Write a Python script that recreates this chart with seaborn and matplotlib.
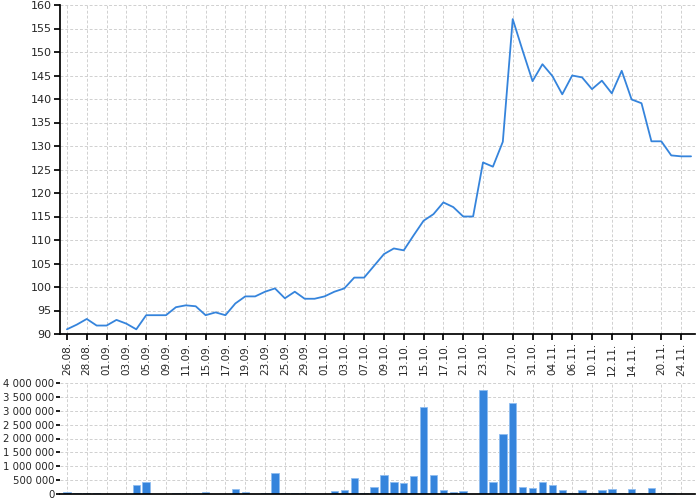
import matplotlib
matplotlib.use("Agg")
import matplotlib.pyplot as plt
import seaborn as sns
import numpy as np
import pandas as pd
from matplotlib.ticker import FuncFormatter, MultipleLocator

price = [91, 92, 93.2, 91.8, 91.8, 93, 92.2, 91, 94, 94, 94, 95.7, 96.1, 95.9, 94, 94.6, 94,
         96.5, 98, 98, 99, 99.7, 97.6, 99, 97.5, 97.5, 98, 99, 99.7, 102, 102, 104.5, 107, 108.2,
         107.8, 111, 114.1, 115.5, 118, 117, 115, 115, 126.5, 125.6, 130.9, 157, 150.3, 143.8,
         147.4, 144.9, 141, 145, 144.6, 142.1, 143.9, 141.2, 146, 139.9, 139.1, 131, 131, 128,
         127.8, 127.8]
volume = [60e3, 20e3, 40e3, 20e3, 0, 0, 0, 330e3, 420e3, 10e3, 0, 40e3, 30e3, 30e3, 70e3, 0, 0,
          170e3, 70e3, 0, 40e3, 760e3, 50e3, 40e3, 50e3, 0, 0, 100e3, 140e3, 560e3, 20e3, 270e3,
          680e3, 420e3, 390e3, 650e3, 3120e3, 690e3, 160e3, 80e3, 110e3, 0, 3750e3, 420e3,
          2170e3, 3280e3, 270e3, 230e3, 430e3, 320e3, 140e3, 30e3, 150e3, 30e3, 150e3, 180e3,
          50e3, 180e3, 20e3, 230e3, 40e3, 40e3, 10e3, 0]
tick_labels = ["26.08.", "28.08.", "01.09.", "03.09.", "05.09.", "09.09.", "11.09.", "15.09.",
               "17.09.", "19.09.", "23.09.", "25.09.", "29.09.", "01.10.", "03.10.", "07.10.",
               "09.10.", "13.10.", "15.10.", "17.10.", "21.10.", "23.10.", "27.10.", "31.10.",
               "04.11.", "06.11.", "10.11.", "12.11.", "14.11.", "20.11.", "24.11."]
tick_idx = list(range(0, 44, 2)) + [45, 47, 49, 51, 53, 55, 57, 60, 62]

df = pd.DataFrame({"i": np.arange(len(price)), "price": price, "volume": volume})

sns.set_theme(style="white")
plt.rcParams['font.family'] = ['DejaVu Sans']
fig = plt.figure(figsize=(7, 5), dpi=100)
ax1 = fig.add_axes([60/700, 1-334/500, 635/700, 329/500])
ax2 = fig.add_axes([60/700, 1-494/500, 635/700, 111/500])

blue = "#3584dc"
sns.lineplot(data=df, x="i", y="price", ax=ax1, color=blue, linewidth=1.3)
sns.barplot(data=df, x="i", y="volume", ax=ax2, color=blue, native_scale=True,
            width=0.75, edgecolor="#8fbdf0", linewidth=0.6, saturation=1)

for ax in (ax1, ax2):
    ax.set_xlim(-0.7, 63.4)
    ax.grid(True, color="#d0d0d0", linestyle=(0, (3, 2)), linewidth=0.7)
    ax.set_xlabel(""); ax.set_ylabel("")
    for s in ["top", "right", "left"]:
        ax.spines[s].set_visible(False)
    ax.spines["bottom"].set_color("black")
    ax.set_axisbelow(True)

ax1.tick_params(axis="y", labelsize=8, length=4, left=True, color="black", pad=2)
ax2.tick_params(axis="y", labelsize=7.3, length=3, left=True, color="black", pad=1)

ax1.set_ylim(90, 160)
ax1.yaxis.set_major_locator(MultipleLocator(5))
ax1.set_xticks(tick_idx)
ax1.set_xticklabels(tick_labels, rotation=90, fontsize=7.5)
ax1.tick_params(axis="x", bottom=True, length=4, color="black", pad=2)
ax1.spines["left"].set_visible(True)
ax1.spines["left"].set_color("black")

ax2.set_ylim(0, 4e6)
ax2.yaxis.set_major_locator(MultipleLocator(5e5))
ax2.yaxis.set_major_formatter(FuncFormatter(lambda v, p: f"{int(v):,}".replace(",", " ")))
ax2.set_xticks(tick_idx)
ax2.set_xticklabels([])
ax2.tick_params(axis="x", bottom=False)

fig.savefig("out.png", dpi=100)
